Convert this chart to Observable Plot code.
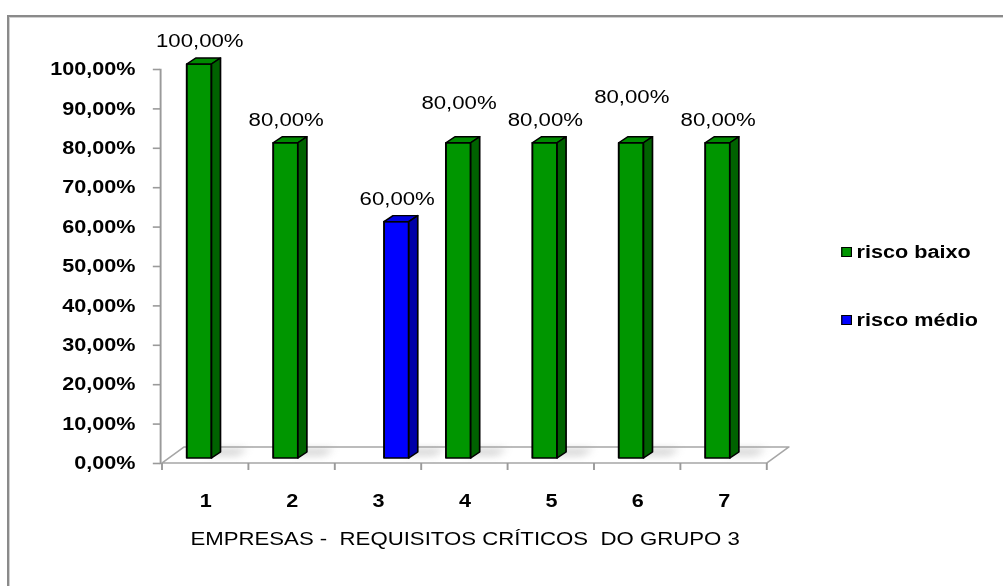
<!DOCTYPE html>
<html><head><meta charset="utf-8">
<script src="https://cdn.jsdelivr.net/npm/d3@7"></script>
<script src="https://cdn.jsdelivr.net/npm/@observablehq/plot@0.6"></script>
<style>
html,body{margin:0;padding:0;background:#fff;}
#wrap{position:relative;width:1003px;height:586px;overflow:hidden;background:#fff;}
#frame{position:absolute;left:7px;top:15px;width:1200px;height:800px;border-left:2px solid #8a8a8a;border-top:2px solid #8a8a8a;box-shadow:inset 1px 1px 0 #d0d0d0;}
#stage{position:absolute;left:0;top:0;width:836px;height:586px;transform:scaleX(1.2);transform-origin:0 0;}
#stage svg{position:absolute;left:0;top:0;}
.item{position:absolute;display:flex;align-items:center;white-space:nowrap;font-family:Arial,"Liberation Sans",sans-serif;font-weight:bold;font-size:18px;line-height:20px;color:#000;}
.sw{width:7px;height:8px;border:1.6px solid #000;margin-right:4px;}
</style></head>
<body><div id="wrap"><div id="frame"></div><div id="stage"></div></div>
<script>
// ---- data ----
const empresas = ["1", "2", "3", "4", "5", "6", "7"];
const series = ["risco baixo", "risco médio"];
const riscoBaixo = [1.00, 0.80, null, 0.80, 0.80, 0.80, 0.80];
const riscoMedio = [null, null, 0.60, null, null, null, null];
const yTicks = [0, 0.1, 0.2, 0.3, 0.4, 0.5, 0.6, 0.7, 0.8, 0.9, 1.0];
const xTitle = "EMPRESAS -  REQUISITOS CRÍTICOS  DO GRUPO 3";
const colors = ["#009600", "#0000ff"];
const topColors = ["#008a00", "#0000e0"];
const sideColors = ["#006200", "#0000a8"];

// ---- layout (drawn in a space that is stretched 1.2x horizontally) ----
const S = 1.2;
const W = 1003 / S, H = 586;
const ML = 160 / S, MR = W - 769 / S, MT = 69, MB = H - 463;
const DX = 9 / S, DY = 6;     // bar depth
const SX = 7 / S, SY = 5;     // bar offset into floor depth
const FX = 22 / S, FY = 16;   // floor depth
const font = "Arial, 'Liberation Sans', Helvetica, sans-serif";
const fmt = v => (v * 100).toFixed(2).replace(".", ",") + "%";

const rows = empresas.flatMap((e, i) => [
  {empresa: e, serie: series[0], valor: riscoBaixo[i]},
  {empresa: e, serie: series[1], valor: riscoMedio[i]}
]).filter(d => d.valor != null);
const baixo = rows.filter(d => d.serie === series[0]);
const medio = rows.filter(d => d.serie === series[1]);
const lift4 = ["4"], lift6 = ["6"];

const chart = Plot.plot({
  width: W, height: H,
  marginLeft: ML, marginRight: MR, marginTop: MT, marginBottom: MB,
  style: {fontFamily: font, background: "transparent", overflow: "visible", whiteSpace: "pre", color: "#000"},
  x: {type: "band", domain: empresas, padding: 0, axis: null},
  y: {domain: [0, 1], axis: null},
  color: {domain: series, range: colors},
  marks: [
    Plot.frame({anchor: "left", stroke: "#9a9a9a", strokeWidth: 1.6}),
    Plot.axisY({ticks: yTicks, tickFormat: fmt, tickSize: 6, tickPadding: 15, stroke: "#9a9a9a", strokeWidth: 1.6,
      fill: "#000", fontSize: 18, fontWeight: "bold", label: null}),
    Plot.axisX({tickSize: 0, tickPadding: 30.5, fontSize: 18, fontWeight: "bold", fill: "#000", label: null}),
    Plot.text([xTitle], {text: d => d, frameAnchor: "bottom", dy: 82, fontSize: 18.5, fill: "#000"}),
    Plot.barY(baixo, {x: "empresa", y: "valor", fill: "serie", stroke: "#000", strokeWidth: 1.6, strokeLinejoin: "round",
      insetLeft: 14.8, insetRight: 36.6, dx: SX, dy: -SY}),
    Plot.barY(medio, {x: "empresa", y: "valor", fill: "serie", stroke: "#000", strokeWidth: 1.6, strokeLinejoin: "round",
      insetLeft: 35.2, insetRight: 16.2, dx: SX, dy: -SY}),
    Plot.text(baixo.filter(d => !lift4.includes(d.empresa) && !lift6.includes(d.empresa)),
      {x: "empresa", y: "valor", text: d => fmt(d.valor), dx: -5, dy: -28, fontSize: 18.5, fill: "#000"}),
    Plot.text(baixo.filter(d => lift4.includes(d.empresa)),
      {x: "empresa", y: "valor", text: d => fmt(d.valor), dx: -5, dy: -45, fontSize: 18.5, fill: "#000"}),
    Plot.text(baixo.filter(d => lift6.includes(d.empresa)),
      {x: "empresa", y: "valor", text: d => fmt(d.valor), dx: -5, dy: -51, fontSize: 18.5, fill: "#000"}),
    Plot.text(medio,
      {x: "empresa", y: "valor", text: d => fmt(d.valor), dx: 15.5, dy: -28, fontSize: 18.5, fill: "#000"})
  ]
});

// ---- 3D decoration from the plot's own scales ----
const xs = chart.scale("x"), ys = chart.scale("y");
const svg = d3.select(chart);
const defs = svg.insert("defs", ":first-child");
defs.append("filter").attr("id", "blur").attr("x", "-50%").attr("y", "-100%").attr("width", "200%").attr("height", "300%")
  .append("feGaussianBlur").attr("stdDeviation", 3.5);

const x0 = xs.apply(empresas[0]);
const x1 = xs.apply(empresas[empresas.length - 1]) + xs.bandwidth;
const y0 = ys.apply(0);
const floor = svg.insert("g", "g");
floor.append("polygon")
  .attr("points", [[x0, y0], [x1, y0], [x1 + FX, y0 - FY], [x0 + FX, y0 - FY]].map(p => p.join(",")).join(" "))
  .attr("fill", "#fff").attr("stroke", "#a6a6a6").attr("stroke-width", 1.6).attr("stroke-linejoin", "round");
const bounds = empresas.map(e => xs.apply(e)).concat([x1]);
floor.selectAll("line.bt").data(bounds).join("line")
  .attr("x1", d => d).attr("x2", d => d).attr("y1", y0).attr("y2", y0 + 7)
  .attr("stroke", "#9a9a9a").attr("stroke-width", 1.6);

svg.selectAll('g[aria-label="bar"]').nodes().forEach((g, si) => {
  const gs = d3.select(g);
  gs.selectAll("rect").nodes().forEach(node => {
    const r = d3.select(node);
    const x = +r.attr("x"), y = +r.attr("y"), w = +r.attr("width"), h = +r.attr("height");
    gs.insert("polygon", () => node)
      .attr("points", [[x + w - 4, y + h - 2], [x + w + 22, y + h - 2], [x + w + 30, y + h - 10], [x + w + 2, y + h - 10]].map(p => p.join(",")).join(" "))
      .attr("fill", "#a8a8a8").attr("opacity", 0.45).attr("filter", "url(#blur)").attr("stroke", "none");
    const top = [[x, y], [x + w, y], [x + w + DX, y - DY], [x + DX, y - DY]];
    const side = [[x + w, y], [x + w + DX, y - DY], [x + w + DX, y + h - DY], [x + w, y + h]];
    gs.append("polygon").attr("points", top.map(p => p.join(",")).join(" "))
      .attr("fill", topColors[si]).attr("stroke", "#000").attr("stroke-width", 1.4).attr("stroke-linejoin", "round");
    gs.append("polygon").attr("points", side.map(p => p.join(",")).join(" "))
      .attr("fill", sideColors[si]).attr("stroke", "#000").attr("stroke-width", 1.4).attr("stroke-linejoin", "round");
  });
});

const stage = document.getElementById("stage");
stage.appendChild(chart);

// ---- legend ----
const legendTops = [242, 310];
series.forEach((s, i) => {
  const item = document.createElement("div");
  item.className = "item";
  item.style.left = (841 / S) + "px";
  item.style.top = legendTops[i] + "px";
  const sw = document.createElement("span");
  sw.className = "sw";
  sw.style.background = colors[i];
  const t = document.createElement("span");
  t.textContent = s;
  item.appendChild(sw); item.appendChild(t);
  stage.appendChild(item);
});
</script>
</body></html>
